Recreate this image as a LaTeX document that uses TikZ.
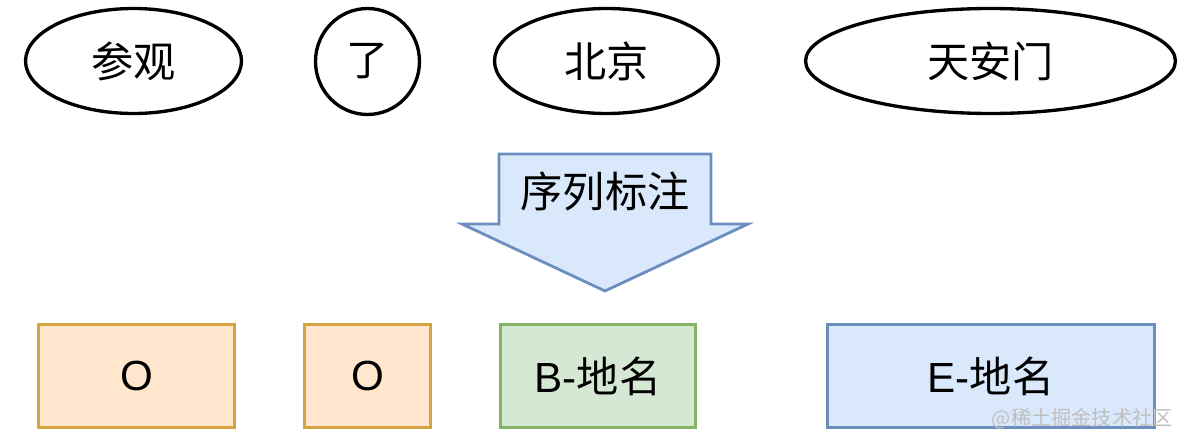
\documentclass[tikz,border=0pt]{standalone}
\usepackage{fontspec}
\setmainfont{Liberation Sans}
\newfontfamily\cjk{Noto Sans CJK SC}
\usepackage{xcolor}
\usepackage{tikz}
\usetikzlibrary{shapes.geometric,positioning}
\definecolor{tagO}{RGB}{255,230,204}
\definecolor{tagOd}{RGB}{214,163,66}
\definecolor{tagB}{RGB}{213,232,212}
\definecolor{tagBd}{RGB}{130,179,102}
\definecolor{tagE}{RGB}{218,232,252}
\definecolor{tagEd}{RGB}{108,142,191}

\begin{document}
\begin{tikzpicture}[
  x=0.02cm, y=-0.02cm,
  word/.style={draw, ellipse, line width=1.9pt, inner sep=0pt, minimum height=2.1cm, font=\fontsize{24}{28}\selectfont\cjk},
  lab/.style={draw, line width=1.6pt, inner sep=0pt, minimum height=2.06cm, font=\fontsize{24}{28}\selectfont},
  labO/.style={lab, fill=tagO, draw=tagOd},
  labB/.style={lab, fill=tagB, draw=tagBd},
  labE/.style={lab, fill=tagE, draw=tagEd}
]
\useasboundingbox (0,0) rectangle (1188,446);

% words
\node[word, minimum width=4.32cm] (w1) at (133.5,61) {\raisebox{-3pt}{参观}};
\node[word, minimum width=2.08cm, minimum height=2.12cm] (w2) at (367.5,61.5) {\raisebox{-3pt}{了}};
\node[word, minimum width=4.48cm] (w3) at (606.5,61) {\raisebox{-3pt}{北京}};
\node[word, minimum width=7.40cm] (w4) at (990.5,61) {\raisebox{-3pt}{天安门}};

% tagging arrow
\draw[line width=1.6pt, draw=tagEd, fill=tagE, line join=miter]
  (499,154) -- (711,154) -- (711,224) -- (748,224) -- (605,291)
  -- (462,224) -- (499,224) -- cycle;
\node[font=\fontsize{24}{28}\selectfont\cjk] (seq) at (605,191) {序列标注};

% labels
\node[labO, minimum width=3.92cm] (t1) at (136.5,376) {O};
\node[labO, minimum width=2.52cm] (t2) at (367.5,376) {O};
\node[labB, minimum width=3.90cm] (t3) at (598,376) {B-{\cjk 地名}};
\node[labE, minimum width=6.54cm] (t4) at (991,376) {E-{\cjk 地名}};

\node[font=\fontsize{11.5}{13}\selectfont\cjk, text=black!25, anchor=east, inner sep=0pt] (mark) at (1173,419) {@稀土掘金技术社区};

\end{tikzpicture}
\end{document}
